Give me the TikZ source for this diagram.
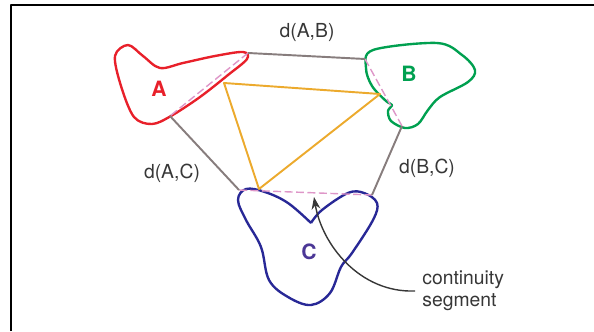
\documentclass[tikz,border=0pt]{standalone}
\usepackage{fontspec}
\setmainfont{TeX Gyre Heros}
\usetikzlibrary{arrows.meta}

\definecolor{blobA}{RGB}{232,32,42}
\definecolor{blobB}{RGB}{0,160,80}
\definecolor{blobC}{RGB}{40,40,150}
\definecolor{labelC}{RGB}{75,55,150}
\definecolor{distgray}{RGB}{135,125,125}
\definecolor{triorange}{RGB}{236,170,45}
\definecolor{segpink}{RGB}{222,150,200}
\definecolor{txtgray}{RGB}{55,55,55}

\begin{document}
\begin{tikzpicture}[x=0.02cm, y=-0.02cm, line join=round]

    % pixel grid of the reference, y pointing down
    \useasboundingbox (0,0) rectangle (594,331);

    \tikzset{%
      blob/.style      = {line width=1.35pt},
      dist_line/.style = {line width=1.1pt, draw=distgray},
      tri_line/.style  = {line width=1.1pt, draw=triorange},
      cont_seg/.style  = {line width=0.8pt, draw=segpink, dash pattern=on 4.5pt off 2pt},
      dist_lbl/.style  = {text=txtgray, font=\fontsize{11}{13}\selectfont},
      set_lbl/.style   = {font=\fontsize{12}{14}\selectfont\bfseries}
    }

    % frame (cut at right and bottom)
    \draw[line width=1.5pt] (11,331) -- (11,5) -- (594,5);

    % the three sets
    \draw[blob, blobA] plot[smooth cycle, tension=0.55] coordinates {%
      (128,45) (115,56) (121,86) (134,117) (152,124) (171,116)
      (200,97) (228,75) (247,59) (243,52) (215,56) (183,63)
      (160,68) (143,56)};
    \draw[blob, blobB] plot[smooth cycle, tension=0.55] coordinates {%
      (373,50) (437,43) (462,55) (475,70) (468,82) (440,97) (428,110)
      (418,124) (405,128) (391,121) (388,111) (392,105) (386,101)
      (372,86) (366,68)};
    \draw[blob, blobC] plot[smooth, tension=0.6] coordinates {%
      (311,223) (322,210) (348,193) (364,193) (377,203) (373,220)
      (352,253) (341,267) (330,293) (311,305) (288,297) (269,280)
      (261,247) (246,220) (238,200) (246,189) (265,192) (288,203)
      (311,223)};

    % end points of the distances
    \coordinate (a1) at (248,53);
    \coordinate (a2) at (170,116);
    \coordinate (b1) at (365,59);
    \coordinate (b2) at (402,126);
    \coordinate (c1) at (239,190);
    \coordinate (c2) at (372,195);
    \coordinate (ctip) at (314,197);

    % triangle corners
    \coordinate (ta) at (224,83);
    \coordinate (tb) at (380,94);
    \coordinate (tc) at (259,189);

    \foreach \p/\q in {a1/a2, b1/b2, c1/c2}
      \draw[cont_seg] (\p) -- (\q);

    \foreach \p/\q in {a1/b1, a2/c1, b2/c2}
      \draw[dist_line] (\p) -- (\q);

    \draw[tri_line] (ta) -- (tb) -- (tc) -- cycle;

    % labels
    \node[set_lbl, text=blobA] (lblA) at (159,89) {A};
    \node[set_lbl, text=blobB] (lblB) at (409,74) {B};
    \node[set_lbl, text=labelC] (lblC) at (309,252) {C};

    \node[dist_lbl] (dAB) at (307,33) {d(A,B)};
    \node[dist_lbl] (dAC) at (172,173) {d(A,C)};
    \node[dist_lbl] (dBC) at (427,168) {d(B,C)};

    \node[dist_lbl, align=left, anchor=west, inner sep=4pt,
          font=\fontsize{11}{12.5}\selectfont] (seg) at (415,291)
      {continuity\\segment};

    \draw[-{Stealth[length=7pt, width=5pt]}, line width=0.8pt, txtgray]
      (seg.west) .. controls (360,293) and (322,245) .. (ctip);

\end{tikzpicture}
\end{document}
